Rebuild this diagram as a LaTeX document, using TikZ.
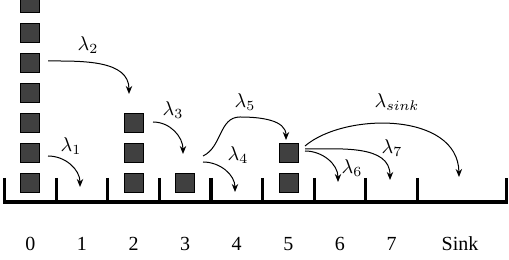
\documentclass[tikz,border=0pt]{standalone}
\usepackage{fontspec}
\setmainfont{Liberation Serif}
\usepackage{tikz}
\usetikzlibrary{arrows.meta}
\definecolor{boxG}{RGB}{64,64,64}
\begin{document}
\begin{tikzpicture}[x=0.5pt, y=-0.5pt,
  box/.style={draw=black, fill=boxG, minimum size=9.5pt, inner sep=0pt, line width=0.4pt},
  flow/.style={-{Stealth[length=4pt, width=3.2pt]}, line width=0.5pt},
  wall/.style={line width=1.6pt}]
\useasboundingbox (0,0) rectangle (509,260);
% ====== bins: floor and separators ======
\draw[wall] (4.5,178) -- (4.5,202) -- (506.7,202) -- (506.7,178);
\draw[wall] (56.1,178) -- (56.1,202);
\draw[wall] (107.7,178) -- (107.7,202);
\draw[wall] (159.3,178) -- (159.3,202);
\draw[wall] (210.9,178) -- (210.9,202);
\draw[wall] (262.5,178) -- (262.5,202);
\draw[wall] (314.1,178) -- (314.1,202);
\draw[wall] (365.7,178) -- (365.7,202);
\draw[wall] (417.3,178) -- (417.3,202);
% bin labels
\node (l0) at (30.3,244) {0};
\node (l1) at (81.9,244) {1};
\node (l2) at (133.5,244) {2};
\node (l3) at (185.1,244) {3};
\node (l4) at (236.7,244) {4};
\node (l5) at (288.3,244) {5};
\node (l6) at (339.9,244) {6};
\node (l7) at (391.5,244) {7};
\node (lsink) at (460,244) {Sink};
% ====== particles ======
% bin 0 (top one runs off the page)
\node[box] (s0a) at (30.3,182.7) {};
\node[box] (s0b) at (30.3,152.7) {};
\node[box] (s0c) at (30.3,122.7) {};
\node[box] (s0d) at (30.3,92.7) {};
\node[box] (s0e) at (30.3,62.7) {};
\node[box] (s0f) at (30.3,32.7) {};
\node[box] (s0g) at (30.3,2.7) {};
% bin 2
\node[box] (s2a) at (133.5,182.7) {};
\node[box] (s2b) at (133.5,152.7) {};
\node[box] (s2c) at (133.5,122.7) {};
% bin 3
\node[box] (s3a) at (185.1,182.7) {};
% bin 5
\node[box] (s5a) at (288.8,182.7) {};
\node[box] (s5b) at (288.8,152.7) {};
% ====== jumps ======
\coordinate (f1) at (48,156);   \coordinate (t1) at (80,187);
\coordinate (f2) at (48,61);    \coordinate (t2) at (129,94);
\coordinate (f3) at (153,122);  \coordinate (t3) at (183,154);
\coordinate (f4) at (203,162);  \coordinate (t4) at (235,192);
\coordinate (f5) at (203,156);  \coordinate (p5) at (240,117);
\coordinate (t5) at (286,140);
\coordinate (fs) at (305,146);  \coordinate (ts) at (459,177);
\coordinate (f7) at (305,149);  \coordinate (t7) at (390,180);
\coordinate (f6) at (305,151);  \coordinate (t6) at (338,182);
\draw[flow] (f1) to[out=0, in=90] (t1);
\draw[flow] (f2) to[out=0, in=90] (t2);
\draw[flow] (f3) to[out=0, in=90] (t3);
\draw[flow] (f4) to[out=0, in=90] (t4);
\draw[flow] (f5) to[out=25, in=180] (p5) to[out=0, in=90] (t5);
\draw[flow] (fs) .. controls (345,112) and (458,112) .. (ts);
\draw[flow] (f7) to[out=0, in=90] (t7);
\draw[flow] (f6) to[out=0, in=90] (t6);
% rate labels
\node (r1) at (71,146) {$\lambda_1$};
\node (r2) at (88,45) {$\lambda_2$};
\node (r3) at (173,110) {$\lambda_3$};
\node (r4) at (238,155) {$\lambda_4$};
\node (r5) at (245,102) {$\lambda_5$};
\node (r6) at (352,168) {$\lambda_6$};
\node (r7) at (392,148) {$\lambda_7$};
\node (rs) at (397,102) {$\lambda_{sink}$};
\end{tikzpicture}
\end{document}
